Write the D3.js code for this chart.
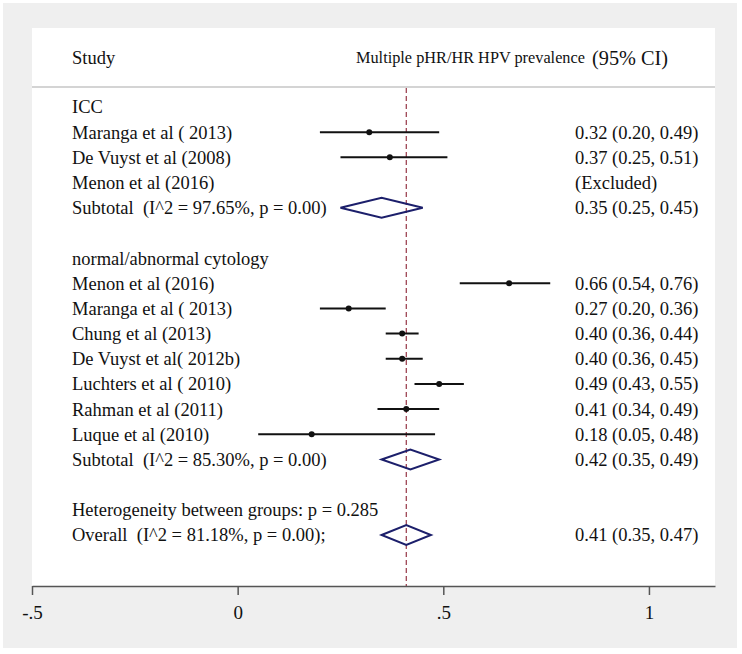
<!DOCTYPE html>
<html>
<head>
<meta charset="utf-8">
<script src="https://cdn.jsdelivr.net/npm/d3@7"></script>
<style>
body { margin:0; background:#fff; }
svg text { font-family: "Liberation Serif", "Times New Roman", serif; fill:#111; white-space: pre; }
</style>
</head>
<body>
<div class="chart"></div>
<script>
// rows of the forest plot, top to bottom (null = no estimate)
const labels = [
  "ICC", "Maranga et al ( 2013)", "De Vuyst et al (2008)", "Menon et al (2016)",
  "Subtotal  (I^2 = 97.65%, p = 0.00)", "",
  "normal/abnormal cytology", "Menon et al (2016)", "Maranga et al ( 2013)",
  "Chung et al (2013)", "De Vuyst et al( 2012b)", "Luchters et al ( 2010)",
  "Rahman et al (2011)", "Luque et al (2010)",
  "Subtotal  (I^2 = 85.30%, p = 0.00)", "",
  "Heterogeneity between groups: p = 0.285", "Overall  (I^2 = 81.18%, p = 0.00);"
];
const kinds = ["head","study","study","study","sub","blank",
  "head","study","study","study","study","study","study","study","sub","blank",
  "head","sub"];
const est  = [null,0.32,0.37,null,0.35,null,null,0.66,0.27,0.40,0.40,0.49,0.41,0.18,0.42,null,null,0.41];
const lower= [null,0.20,0.25,null,0.25,null,null,0.54,0.20,0.36,0.36,0.43,0.34,0.05,0.35,null,null,0.35];
const upper= [null,0.49,0.51,null,0.45,null,null,0.76,0.36,0.44,0.45,0.55,0.49,0.48,0.49,null,null,0.47];
const ciText = ["","0.32 (0.20, 0.49)","0.37 (0.25, 0.51)","(Excluded)","0.35 (0.25, 0.45)","",
  "","0.66 (0.54, 0.76)","0.27 (0.20, 0.36)","0.40 (0.36, 0.44)","0.40 (0.36, 0.45)",
  "0.49 (0.43, 0.55)","0.41 (0.34, 0.49)","0.18 (0.05, 0.48)","0.42 (0.35, 0.49)","",
  "","0.41 (0.35, 0.47)"];
const overall = 0.41;
const tickValues = [-0.5, 0, 0.5, 1];
const tickLabels = ["-.5", "0", ".5", "1"];

const W = 742, H = 654;
const plot = {left:32, right:715, top:28, bottom:586};

const svg = d3.select(".chart").append("svg")
    .attr("width", W)
    .attr("height", H);

// gray frame + white plot region
svg.append("rect").attr("x",3).attr("y",3).attr("width",734).attr("height",645).attr("fill","#efefef");
svg.append("rect")
    .attr("x",plot.left).attr("y",plot.top)
    .attr("width",plot.right-plot.left).attr("height",plot.bottom-plot.top)
    .attr("fill","#fff");

const xScale = d3.scaleLinear()
    .domain([-0.5, 1.1606])
    .range([plot.left, plot.right]);
const yScale = d3.scaleLinear()
    .domain([0, labels.length-1])
    .range([107, 535]);

// header
svg.append("text").attr("x",72).attr("y",58).attr("dy","0.35em")
    .attr("font-size",18.5).text("Study");
svg.append("text").attr("x",356).attr("y",57).attr("dy","0.35em")
    .attr("font-size",16.3).text("Multiple pHR/HR HPV prevalence");
svg.append("text").attr("x",592).attr("y",58).attr("dy","0.35em")
    .attr("font-size",20.3).text("(95% CI)");
svg.append("line")
    .attr("x1",plot.left).attr("x2",plot.right)
    .attr("y1",87).attr("y2",87)
    .attr("stroke","#aaa").attr("stroke-width",1.2);

// reference line at overall estimate
svg.append("line")
    .attr("x1",xScale(overall)).attr("x2",xScale(overall))
    .attr("y1",88).attr("y2",plot.bottom)
    .attr("stroke","#963646").attr("stroke-width",1.2)
    .attr("stroke-dasharray","5,3");

const rows = labels.map((d,i)=>({label:d, kind:kinds[i], est:est[i], lo:lower[i], hi:upper[i], ci:ciText[i], i:i}));

// left labels
svg.selectAll(".label")
    .data(rows)
    .enter()
    .append("text")
    .attr("class","label")
    .attr("x",72)
    .attr("y",d=>yScale(d.i))
    .attr("dy","0.35em")
    .attr("font-size",18.5)
    .text(d=>d.label);

// right column
svg.selectAll(".ci")
    .data(rows.filter(d=>d.ci))
    .enter()
    .append("text")
    .attr("class","ci")
    .attr("x",575)
    .attr("y",d=>yScale(d.i))
    .attr("dy","0.35em")
    .attr("font-size",18.5)
    .text(d=>d.ci);

// study CIs
const studies = rows.filter(d=>d.kind=="study" && d.est!=null);
svg.selectAll(".ci-line")
    .data(studies)
    .enter()
    .append("line")
    .attr("class","ci-line")
    .attr("x1",d=>xScale(d.lo)).attr("x2",d=>xScale(d.hi))
    .attr("y1",d=>yScale(d.i)).attr("y2",d=>yScale(d.i))
    .attr("stroke","#111").attr("stroke-width",2);
svg.selectAll(".pt")
    .data(studies)
    .enter()
    .append("circle")
    .attr("class","pt")
    .attr("cx",d=>xScale(d.est))
    .attr("cy",d=>yScale(d.i))
    .attr("r",3)
    .attr("fill","#111");

// pooled diamonds
svg.selectAll(".diamond")
    .data(rows.filter(d=>d.kind=="sub"))
    .enter()
    .append("path")
    .attr("class","diamond")
    .attr("d",d=>{
        const y = yScale(d.i);
        return `M${xScale(d.lo)},${y}L${xScale(d.est)},${y-10}L${xScale(d.hi)},${y}L${xScale(d.est)},${y+10}Z`;
    })
    .attr("fill","none")
    .attr("stroke","#1c1f6b")
    .attr("stroke-width",2);

// x axis
const xAxis = d3.axisBottom()
    .scale(xScale)
    .tickValues(tickValues)
    .tickFormat((d,i)=>tickLabels[i])
    .tickSize(9)
    .tickSizeOuter(0)
    .tickPadding(11);
const gx = svg.append("g")
    .attr("class","axis x-axis")
    .attr("transform",`translate(0, ${plot.bottom})`)
    .call(xAxis);
gx.select(".domain").attr("stroke","#555").attr("stroke-width",1.5);
gx.selectAll(".tick line").attr("stroke","#555").attr("stroke-width",1.5);
gx.selectAll(".tick text")
    .attr("font-family","Liberation Serif, serif")
    .attr("font-size",19)
    .attr("fill","#111");
</script>
</body>
</html>
